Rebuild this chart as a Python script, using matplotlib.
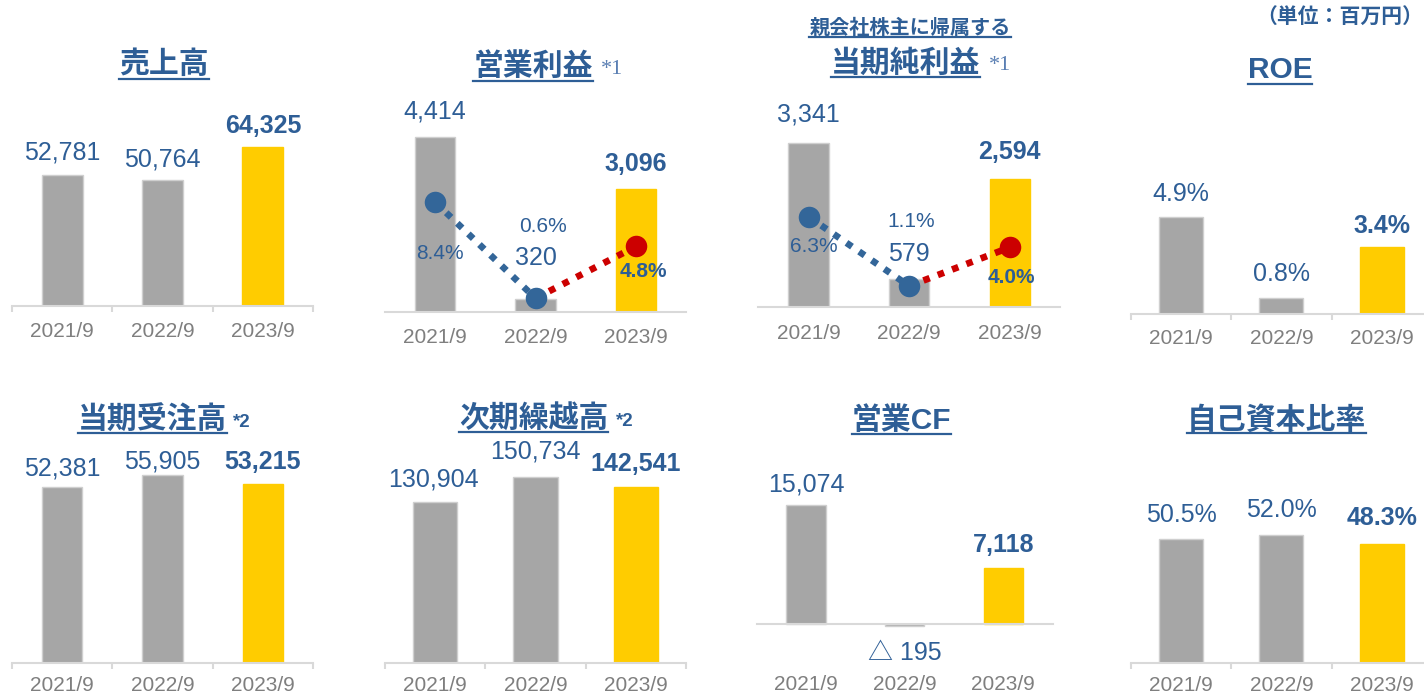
import matplotlib
matplotlib.use('Agg')
import matplotlib.pyplot as plt
from matplotlib.lines import Line2D

plt.rcParams['font.family'] = ['Liberation Sans', 'Noto Sans CJK JP']

# ---------------- data ----------------
years = ['2021/9', '2022/9', '2023/9']
sales = [52781, 50764, 64325]
op_income = [4414, 320, 3096]
op_margin = [8.4, 0.6, 4.8]
net_income = [3341, 579, 2594]
net_margin = [6.3, 1.1, 4.0]
roe = [4.9, 0.8, 3.4]
orders = [52381, 55905, 53215]
backlog = [130904, 150734, 142541]
op_cf = [15074, -195, 7118]
equity_ratio = [50.5, 52.0, 48.3]

titles = ['売上高', '営業利益', '当期純利益', 'ROE', '当期受注高', '次期繰越高', '営業CF', '自己資本比率']
subtitle = '親会社株主に帰属する'
unit_text = '（単位：百万円）'

# ---------------- style ----------------
W, H = 1424, 695
BLUE = '#2E5E96'
LIGHTBLUE = '#5A7FB3'
GRAY_BAR = '#A6A6A6'
YELLOW = '#FFCC00'
TICK_GRAY = '#7F7F7F'
AXIS_GRAY = '#D9D9D9'
MARK_BLUE = '#336699'
RED = '#CC0000'
bar_colors = [GRAY_BAR, GRAY_BAR, YELLOW]
bar_edges = ['#CFCFCF', '#CFCFCF', YELLOW]

fig = plt.figure(figsize=(W / 100, H / 100), dpi=100)


def P(px):
    return px * 0.72  # pixels -> points at 100 dpi


def px_axes(left, right, base, up=250, down=0):
    ax = fig.add_axes([left / W, 1 - (base + down) / H, (right - left) / W, (up + down) / H])
    ax.patch.set_alpha(0)
    return ax


def fmt_num(v):
    return ('△ ' + f'{abs(v):,}') if v < 0 else f'{v:,}'


def fmt_pct(v):
    return f'{v:.1f}%'


def panel(values, fmt, left, right, base, ylim, width, label_dy, ticks=True,
          down=0, tick_dy=26, label_dx=(0, 0, 0)):
    ax = px_axes(left, right, base, 250, down)
    ax.set_xlim(-0.5, 2.5)
    ax.set_ylim(*ylim)
    x = list(range(len(values)))
    ax.bar(x, values, width=width, color=bar_colors, edgecolor=bar_edges,
           linewidth=1, zorder=2)
    for s in ['top', 'right', 'left']:
        ax.spines[s].set_visible(False)
    ax.spines['bottom'].set_position(('data', 0))
    ax.spines['bottom'].set_color(AXIS_GRAY)
    ax.spines['bottom'].set_linewidth(1.5)
    ax.set_yticks([])
    if ticks:
        ax.set_xticks([-0.5, 0.5, 1.5, 2.5])
        ax.tick_params(axis='x', length=4.5, width=1.5, color=AXIS_GRAY,
                       labelbottom=False, direction='out')
    else:
        ax.set_xticks([])
    for i, (v, lab) in enumerate(zip(values, years)):
        ax.annotate(lab, xy=(i, 0), xytext=(0, -P(tick_dy)), textcoords='offset points',
                    ha='center', va='center', fontsize=15, color=TICK_GRAY,
                    annotation_clip=False)
        if label_dy[i] is not None:
            bold = (i == len(values) - 1)
            ax.annotate(fmt(v), xy=(i, v), xytext=(P(label_dx[i]), P(label_dy[i])),
                        textcoords='offset points', ha='center', va='center',
                        fontsize=18, color=BLUE,
                        fontweight='bold' if bold else 'normal',
                        annotation_clip=False)
    return ax


def margin_line(ax, margins, ylim, offsets):
    ax2 = ax.twinx()
    ax2.set_ylim(*ylim)
    ax2.set_xlim(-0.5, 2.5)
    ax2.axis('off')
    x = list(range(len(margins)))
    ax2.plot(x[:2], margins[:2], color=MARK_BLUE, lw=4.8, linestyle=(0, (1, 1.3)),
             zorder=3)
    ax2.plot(x[1:], margins[1:], color=RED, lw=4.8, linestyle=(0, (1, 1.3)), zorder=3)
    ax2.plot(x[:2], margins[:2], 'o', color=MARK_BLUE, ms=15.5, mec='none', zorder=5)
    ax2.plot(x[2:], margins[2:], 'o', color=RED, ms=15.5, mec='none', zorder=5)
    for i, v in enumerate(margins):
        dx, dy = offsets[i]
        bold = (i == len(margins) - 1)
        ax2.annotate(fmt_pct(v), xy=(i, v), xytext=(P(dx), P(dy)), textcoords='offset points',
                     ha='center', va='center', fontsize=15, color=BLUE,
                     fontweight='bold' if bold else 'normal', annotation_clip=False,
                     zorder=6)
    return ax2


# ---------------- panels ----------------
panel(sales, fmt_num, 12, 313, 305.7, (0, 101130), 0.41, [22.5, 20.8, 21])

ax2 = panel(op_income, fmt_num, 385, 686, 311.7, (0, 6327), 0.40, [25.6, 41, 25], ticks=False)
margin_line(ax2, op_margin, (-0.49, 19.79), [(5, -51.7), (7.7, 72), (7.7, -25)])

ax3 = panel(net_income, fmt_num, 758.3, 1060, 307.3, (0, 5074), 0.40, [27.7, 25, 27.3],
            ticks=False)
margin_line(ax3, net_margin, (-0.50, 18.28), [(5.7, -29.6), (2.4, 65), (1.7, -30.3)])

panel(roe, fmt_pct, 1130.7, 1432, 314, (0, 12.63), 0.44, [22.7, 23.7, 20.3], tick_dy=24.3)

panel(orders, fmt_num, 11.7, 313.3, 663.3, (0, 74405), 0.40, [19, 14, 22.3], tick_dy=22.5)

panel(backlog, fmt_num, 385, 686, 663.3, (0, 202430), 0.44, [21.7, 25.3, 23.7],
      label_dx=(-2, 0, 0), tick_dy=22.5)

panel(op_cf, fmt_num, 756.7, 1052.7, 624, (-2534, 31670), 0.40, [21, -27.2, 23.3],
      ticks=False, down=20, tick_dy=61)

panel(equity_ratio, fmt_pct, 1130.7, 1432, 663.3, (0, 101.5), 0.44, [24, 25, 26.7],
      tick_dy=22.5)

# ---------------- titles ----------------
title_specs = [
    # text, cx, cy, underline y, fontsize
    (titles[0], 163.8, 65, 79.3, 21.5),
    (titles[1], 533, 67, 80.7, 21.5),
    (titles[2], 905.8, 63.5, 77.3, 21.5),
    (titles[3], 1280, 70.5, 84, 21.5),
    (titles[4], 152.5, 420, 433.3, 21.5),
    (titles[5], 533.8, 418.5, 431.7, 21.5),
    (titles[6], 901.7, 420.5, 434.3, 21.5),
    (titles[7], 1276.7, 420, 433.3, 21.5),
    (subtitle, 910, 28, 36.7, 14.5),
]
title_objs = []
for txt, cx, cy, uy, fs in title_specs:
    t = fig.text(cx / W, 1 - cy / H, txt, ha='center', va='center', fontsize=fs,
                 fontweight='bold', color=BLUE)
    title_objs.append((t, uy))

# footnote marks
fig.text(601 / W, 1 - 70 / H, '*1', ha='left', va='center', fontsize=16,
         color=LIGHTBLUE, family='Liberation Serif')
fig.text(989 / W, 1 - 65 / H, '*1', ha='left', va='center', fontsize=16,
         color=LIGHTBLUE, family='Liberation Serif')
fig.text(232.7 / W, 1 - 423 / H, '*2', ha='left', va='center', fontsize=13.5,
         color=BLUE, fontweight='bold')
fig.text(616 / W, 1 - 421.7 / H, '*2', ha='left', va='center', fontsize=13.5,
         color=BLUE, fontweight='bold')

fig.text(1423 / W, 1 - 18 / H, unit_text, ha='right', va='center', fontsize=15,
         fontweight='bold', color=BLUE)

# underlines under titles
fig.canvas.draw()
renderer = fig.canvas.get_renderer()
for t, uy in title_objs:
    bb = t.get_window_extent(renderer)
    y = 1 - uy / H
    fig.add_artist(Line2D([bb.x0 / W, bb.x1 / W], [y, y], transform=fig.transFigure,
                          color=BLUE, lw=1.6))

fig.savefig('out.png', dpi=100)
